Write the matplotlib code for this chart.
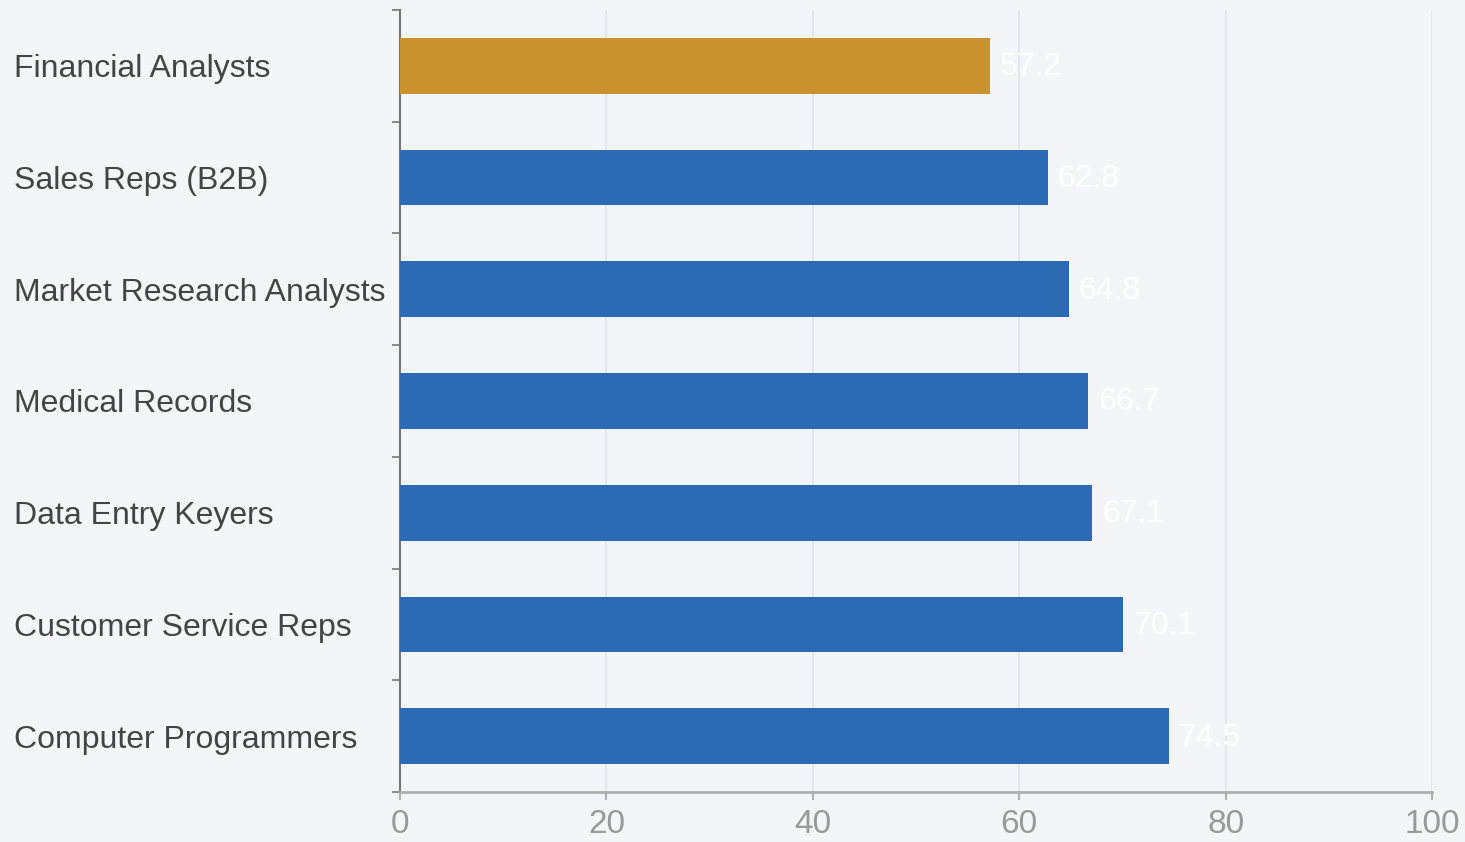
import matplotlib
matplotlib.use("Agg")
import matplotlib.pyplot as plt
import numpy as np

# Data
categories = ["Financial Analysts", "Sales Reps (B2B)", "Market Research Analysts",
              "Medical Records", "Data Entry Keyers", "Customer Service Reps",
              "Computer Programmers"]
values = [57.2, 62.8, 64.8, 66.7, 67.1, 70.1, 74.5]
highlight = "Financial Analysts"
x_ticks = [0, 20, 40, 60, 80, 100]

plt.rcParams['font.family'] = ['Liberation Sans', 'DejaVu Sans']

bg = "#f4f5f9"
blue = "#2c6bb4"
gold = "#c9922d"

fig = plt.figure(figsize=(14.65, 8.42), dpi=100, facecolor=bg)
ax = fig.add_axes([400 / 1465, 1 - 792 / 842, (1432 - 400) / 1465, (792 - 10) / 842])
ax.set_facecolor(bg)

y = np.arange(len(categories))
colors = [gold if c == highlight else blue for c in categories]
bars = ax.barh(y, values, height=0.5, color=colors, zorder=3)

for b, v in zip(bars, values):
    ax.annotate(f"{v}", (v, b.get_y() + b.get_height() / 2), xytext=(7, -1),
                textcoords="offset points", va="center", ha="left",
                color="white", fontsize=23, zorder=4)

ax.set_xlim(0, 100)
ax.set_ylim(len(categories) - 0.5, -0.5)
ax.set_xticks(x_ticks)
ax.set_xticklabels([str(t) for t in x_ticks])

ax.set_yticks(y)
ax.set_yticklabels(categories, ha="left")
ax.set_yticks(np.arange(-0.5, len(categories), 1.0), minor=True)
ax.tick_params(axis="y", which="major", length=0, pad=386 / (100 / 72),
               labelsize=23, labelcolor="#444444")
ax.tick_params(axis="y", which="minor", length=6, width=1.2, color="#777777")
ax.tick_params(axis="x", length=6, width=1.5, color="#b0b0b0",
               labelsize=24, labelcolor="#999999", pad=6)

ax.grid(axis="x", color="#e2e4ea", linewidth=1.2, zorder=0)
ax.set_axisbelow(True)

for s in ["top", "right"]:
    ax.spines[s].set_visible(False)
ax.spines["left"].set_color("#777777")
ax.spines["left"].set_linewidth(1.5)
ax.spines["bottom"].set_color("#b0b0b0")
ax.spines["bottom"].set_linewidth(2)

fig.savefig("out.png", dpi=100, facecolor=bg)
